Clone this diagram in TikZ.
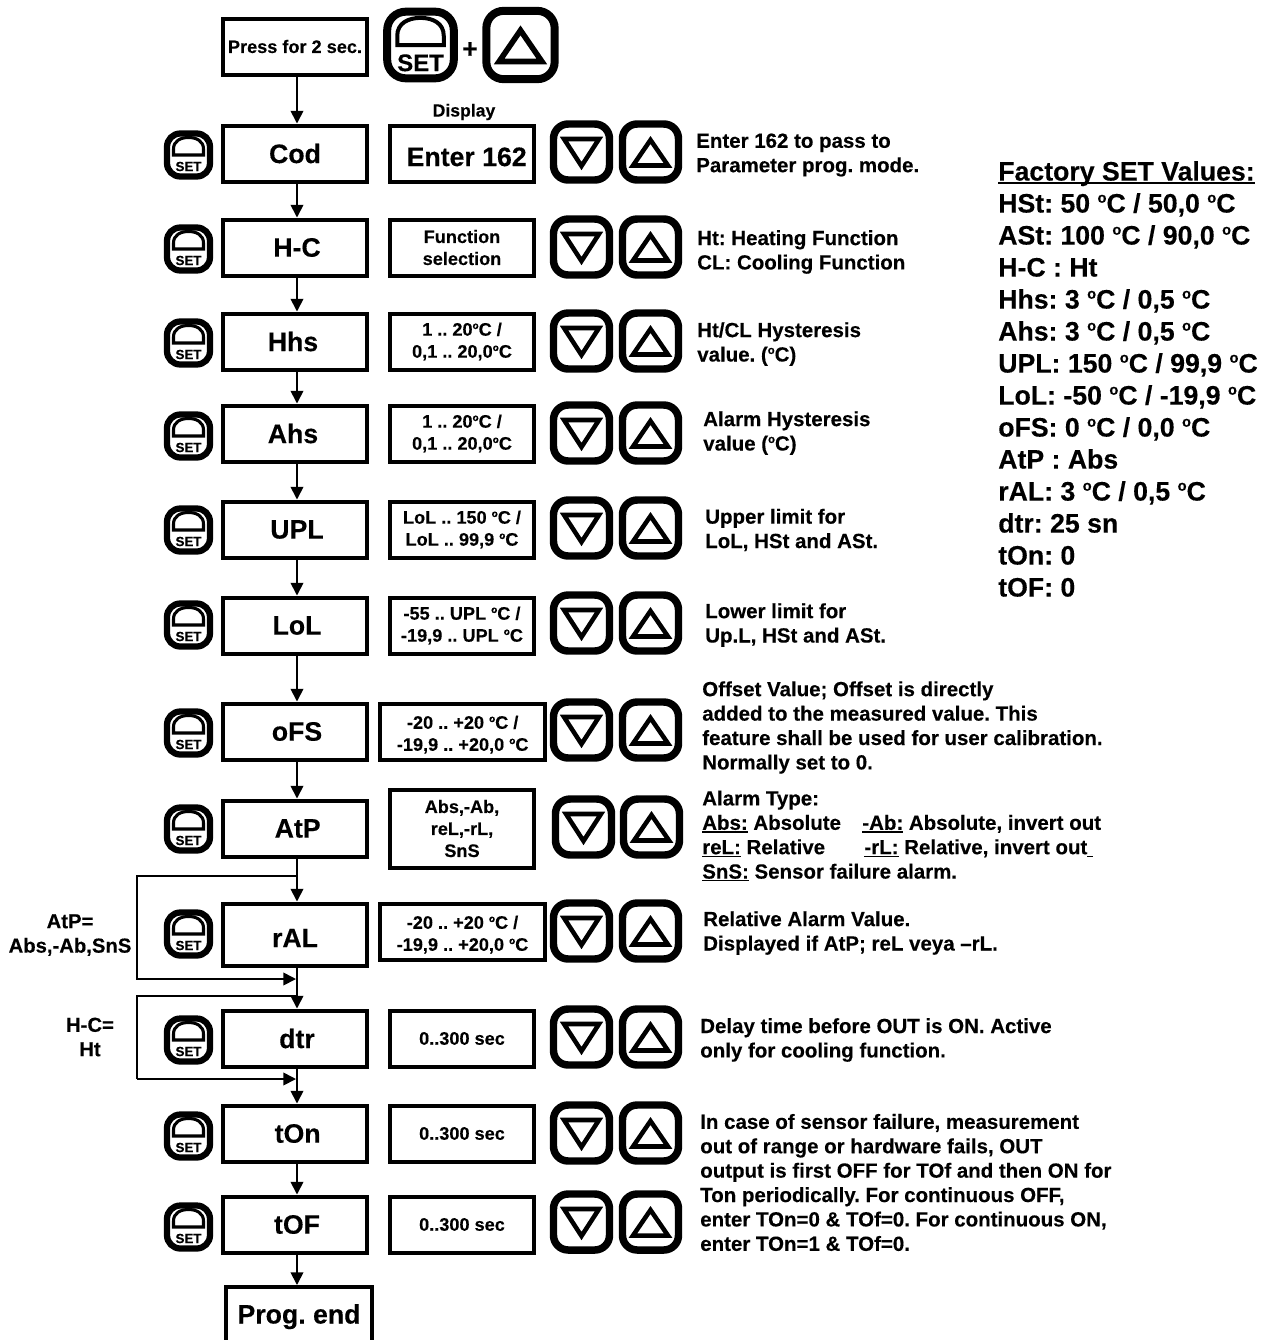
\documentclass[tikz,border=0pt]{standalone}
\usepackage{fontspec}
\setmainfont[BoldFeatures={FakeBold=0.3}]{Liberation Sans}
\usepackage{tikz}
\usetikzlibrary{positioning}
\usetikzlibrary{arrows.meta}
\frenchspacing
\newcommand{\dg}{\raisebox{.37em}{\scalebox{.55}{o}}}
\newcommand{\ulbold}[1]{\setbox0=\hbox{#1}\rlap{\rule[-0.14em]{\wd0}{0.07em}}\box0\relax}

\begin{document}
\begin{tikzpicture}[x=0.75pt,y=-0.75pt]
\tikzset{mainbox/.style={rectangle,minimum width=108pt,minimum height=42pt,line width=3pt,inner sep=0pt,draw,font=\fontsize{20}{24}\selectfont\bfseries}}
\tikzset{valbox/.style={rectangle,minimum width=108pt,minimum height=42pt,line width=3pt,inner sep=0pt,align=center,draw,font=\fontsize{13.6}{16.5}\selectfont\bfseries}}
\tikzset{widebox/.style={valbox,minimum width=124pt}}
\tikzset{note/.style={inner sep=0pt,anchor=west,align=left,font=\fontsize{15.35}{18.3}\selectfont\bfseries}}
\tikzset{sidelabel/.style={inner sep=0pt,align=center,font=\fontsize{15.2}{18.3}\selectfont\bfseries}}
\tikzset{flow/.style={line width=1.3pt,-{Triangle[length=9.5pt,width=9.5pt]}}}
\tikzset{keyround/.store in=\keyround,keyround=9pt}
\tikzset{innerwidth/.store in=\innerwidth,innerwidth=3pt}
\tikzset{setsmall/.style={line width=4.7pt,innerwidth=2.3pt,keyround=10pt}}
\tikzset{setbig/.style={scale=1.55,line width=6pt,innerwidth=3pt,keyround=14pt}}
\tikzset{smallkey/.style={line width=5.6pt,innerwidth=3.4pt,keyround=11pt}}
\tikzset{bigkey/.style={scale=1.22,line width=6pt,innerwidth=4.2pt,keyround=13pt}}
\tikzset{setkey/.pic={
  \draw[rounded corners=\keyround] (-21.5,-21.5) rectangle (21.5,21.5);
  \draw[line width=\innerwidth] (-15,0) -- (-15,-6) .. controls (-15,-14) and (-8,-17.5) .. (0,-17.5) .. controls (8,-17.5) and (15,-14) .. (15,-6) -- (15,0) -- cycle;
  \node[inner sep=0pt,transform shape,font=\fontsize{#1}{#1}\selectfont\bfseries] (-caption) at (0,11.5) {SET};
}}
\tikzset{downkey/.pic={
  \draw[rounded corners=\keyround] (-28,-28) rectangle (28,28);
  \draw[line width=\innerwidth,miter limit=10] (-17.5,-13) -- (17.5,-13) -- (0,14) -- cycle;
}}
\tikzset{upkey/.pic={
  \draw[rounded corners=\keyround] (-28,-28) rectangle (28,28);
  \draw[line width=\innerwidth,miter limit=10] (-17.5,13.5) -- (17.5,13.5) -- (0,-12) -- cycle;
}}
\useasboundingbox (0,0) rectangle (1275,1340);
\coordinate (axis) at (297,0);

% main column
\node[mainbox,font=\fontsize{13.6}{16.5}\selectfont\bfseries] (press) at (295,46.5) {Press for 2 sec.};
\node[mainbox,below=35.25pt of press] (cod) {Cod};
\node[mainbox,below=25.5pt of cod] (hc) {\hspace*{3pt}H-C};
\node[mainbox,below=25.5pt of hc] (hhs) {\hspace*{-3pt}Hhs};
\node[mainbox,below=24pt of hhs] (ahs) {\hspace*{-3pt}Ahs};
\node[mainbox,below=27pt of ahs] (upl) {\hspace*{3pt}UPL};
\node[mainbox,below=27pt of upl] (lol) {\hspace*{3pt}LoL};
\node[mainbox,below=34.5pt of lol] (ofs) {\hspace*{3pt}oFS};
\node[mainbox,below=27.75pt of ofs] (atp) {\hspace*{4pt}AtP};
\node[mainbox,minimum height=46.5pt,below=32.25pt of atp] (ral) {\rule{0pt}{19pt}rAL};
\node[mainbox,below=30.75pt of ral] (dtr) {\hspace*{3pt}dtr};
\node[mainbox,below=26.25pt of dtr] (ton) {\hspace*{4pt}tOn};
\node[mainbox,below=23.25pt of ton] (tof) {\hspace*{3pt}tOF};
\node[mainbox,minimum width=109.5pt] (progend) at (299,1315) {\rule{0pt}{17pt}Prog. end};

% value column
\node[inner sep=0pt,font=\fontsize{13.2}{16}\selectfont\bfseries] (displaytitle) at (464,112) {Display};
\node[valbox,right=14.25pt of cod,font=\fontsize{20}{24}\selectfont\bfseries] (codval) {\hspace*{7pt}\rule{0pt}{19pt}Enter 162};
\node[valbox,right=14.25pt of hc] (hcval) {Function\\selection};
\node[valbox,right=14.25pt of hhs] (hhsval) {1 .. 20\dg C /\\0,1 .. 20,0\dg C};
\node[valbox,right=14.25pt of ahs] (ahsval) {1 .. 20\dg C /\\0,1 .. 20,0\dg C};
\node[valbox,right=14.25pt of upl] (uplval) {LoL .. 150 \dg C /\\LoL .. 99,9 \dg C};
\node[valbox,right=14.25pt of lol] (lolval) {-55 .. UPL \dg C /\\-19,9 .. UPL \dg C};
\node[widebox,right=6.75pt of ofs] (ofsval) {\rule{0pt}{14.5pt}-20 .. +20 \dg C /\\-19,9 .. +20,0 \dg C};
\node[valbox,minimum height=58.5pt,right=14.25pt of atp] (atpval) {Abs,-Ab,\\reL,-rL,\\SnS};
\node[widebox] (ralval) at (462.5,931.5) {\rule{0pt}{14.5pt}-20 .. +20 \dg C /\\-19,9 .. +20,0 \dg C};
\node[valbox,right=14.25pt of dtr] (dtrval) {0..300 sec};
\node[valbox,right=14.25pt of ton] (tonval) {0..300 sec};
\node[valbox,right=14.25pt of tof] (tofval) {0..300 sec};

% keys
\pic[setbig] (startset) at (420.5,45) {setkey=11.6};
\node[inner sep=0pt,font=\fontsize{20}{24}\selectfont\bfseries] (plus) at (470,50) {+};
\pic[bigkey] (startup) at (520.5,45) {upkey};

\pic[setsmall] (codset) at (188.5,155) {setkey=10};
\pic[setsmall] (hcset) at (188.5,249) {setkey=10};
\pic[setsmall] (hhsset) at (188.5,343) {setkey=10};
\pic[setsmall] (ahsset) at (188.5,436) {setkey=10};
\pic[setsmall] (uplset) at (188.5,530) {setkey=10};
\pic[setsmall] (lolset) at (188.5,625) {setkey=10};
\pic[setsmall] (ofsset) at (188.5,733) {setkey=10};
\pic[setsmall] (atpset) at (188.5,829) {setkey=10};
\pic[setsmall] (ralset) at (188.5,934) {setkey=10};
\pic[setsmall] (dtrset) at (188.5,1040) {setkey=10};
\pic[setsmall] (tonset) at (188.5,1136) {setkey=10};
\pic[setsmall] (tofset) at (188.5,1227) {setkey=10};

\pic[smallkey] (coddown) at (581.5,152) {downkey};
\pic[smallkey] (codup) at (650.5,152) {upkey};
\pic[smallkey] (hcdown) at (581.5,247) {downkey};
\pic[smallkey] (hcup) at (650.5,247) {upkey};
\pic[smallkey] (hhsdown) at (581.5,341) {downkey};
\pic[smallkey] (hhsup) at (650.5,341) {upkey};
\pic[smallkey] (ahsdown) at (581.5,433) {downkey};
\pic[smallkey] (ahsup) at (650.5,433) {upkey};
\pic[smallkey] (upldown) at (581.5,528) {downkey};
\pic[smallkey] (uplup) at (650.5,528) {upkey};
\pic[smallkey] (loldown) at (581.5,623) {downkey};
\pic[smallkey] (lolup) at (650.5,623) {upkey};
\pic[smallkey] (ofsdown) at (581.5,730) {downkey};
\pic[smallkey] (ofsup) at (650.5,730) {upkey};
\pic[smallkey] (atpdown) at (583.5,827) {downkey};
\pic[smallkey] (atpup) at (651.5,827) {upkey};
\pic[smallkey] (raldown) at (581.5,931) {downkey};
\pic[smallkey] (ralup) at (650.5,931) {upkey};
\pic[smallkey] (dtrdown) at (581.5,1037) {downkey};
\pic[smallkey] (dtrup) at (650.5,1037) {upkey};
\pic[smallkey] (tondown) at (581.5,1133) {downkey};
\pic[smallkey] (tonup) at (650.5,1133) {upkey};
\pic[smallkey] (tofdown) at (581.5,1222) {downkey};
\pic[smallkey] (tofup) at (650.5,1222) {upkey};

% notes
\node[note] (codnote) at (696,155) {Enter 162 to pass to\\Parameter prog. mode.};
\node[note] (hcnote) at (697,252) {Ht: Heating Function\\CL: Cooling Function};
\node[note] (hhsnote) at (697,344) {Ht/CL Hysteresis\\value. (\dg C)};
\node[note] (ahsnote) at (703,433) {Alarm Hysteresis\\value (\dg C)};
\node[note] (uplnote) at (705,530) {Upper limit for\\LoL, HSt and ASt.};
\node[note] (lolnote) at (705,625) {Lower limit for\\Up.L, HSt and ASt.};
\node[note] (ofsnote) at (702,727.5) {Offset Value; Offset is directly\\added to the measured value. This\\feature shall be used for user calibration.\\Normally set to 0.};
\node[note] (atpnote) at (702,836) {Alarm Type:\\\ulbold{Abs:} Absolute\hspace{16pt}\ulbold{-Ab:} Absolute, invert out\\\ulbold{reL:} Relative\hspace{29.5pt}\ulbold{-rL:} Relative, invert out\ulbold{\ }\\\ulbold{SnS:} Sensor failure alarm.};
\node[note] (ralnote) at (703,933) {Relative Alarm Value.\\Displayed if AtP; reL veya –rL.};
\node[note] (dtrnote) at (700,1040) {Delay time before OUT is ON. Active\\only for cooling function.};
\node[note] (tonnote) at (700,1182.5) {In case of sensor failure, measurement\\out of range or hardware fails, OUT\\output is first OFF for TOf and then ON for\\Ton periodically. For continuous OFF,\\enter TOn=0 \& TOf=0. For continuous ON,\\enter TOn=1 \& TOf=0.};

% factory values
\node[note,font=\fontsize{20}{24}\selectfont\bfseries] (factory) at (998,379) {\ulbold{Factory SET Values:}\\HSt: 50 \dg C / 50,0 \dg C\\ASt: 100 \dg C / 90,0 \dg C\\H-C : Ht\\Hhs: 3 \dg C / 0,5 \dg C\\Ahs: 3 \dg C / 0,5 \dg C\\UPL: 150 \dg C / 99,9 \dg C\\LoL: -50 \dg C / -19,9 \dg C\\oFS: 0 \dg C / 0,0 \dg C\\AtP : Abs\\rAL: 3 \dg C / 0,5 \dg C\\dtr: 25 sn\\tOn: 0\\tOF: 0};

% side conditions
\node[sidelabel] (atpcond) at (70,935) {AtP=\\Abs,-Ab,SnS};
\node[sidelabel] (hccond) at (90,1037) {H-C=\\Ht};

% connectors
\draw[flow] (press.south -| axis) -- (cod.north -| axis);
\draw[flow] (cod.south -| axis) -- (hc.north -| axis);
\draw[flow] (hc.south -| axis) -- (hhs.north -| axis);
\draw[flow] (hhs.south -| axis) -- (ahs.north -| axis);
\draw[flow] (ahs.south -| axis) -- (upl.north -| axis);
\draw[flow] (upl.south -| axis) -- (lol.north -| axis);
\draw[flow] (lol.south -| axis) -- (ofs.north -| axis);
\draw[flow] (ofs.south -| axis) -- (atp.north -| axis);
\draw[flow] (atp.south -| axis) -- (ral.north -| axis);
\draw[flow] (ral.south -| axis) -- (dtr.north -| axis);
\draw[flow] (dtr.south -| axis) -- (ton.north -| axis);
\draw[flow] (ton.south -| axis) -- (tof.north -| axis);
\draw[flow] (tof.south -| axis) -- (progend.north -| axis);

% bypass lines
\coordinate (ralsplit) at (297,876);
\coordinate (ralleft) at (137,876);
\coordinate (ralleftend) at (137,979);
\coordinate (ralmerge) at (296,979);
\coordinate (dtrsplit) at (297,996);
\coordinate (dtrleft) at (137,996);
\coordinate (dtrleftend) at (137,1079);
\coordinate (dtrmerge) at (296,1079);
\draw[flow] (ralsplit) -- (ralleft) -- (ralleftend) -- (ralmerge);
\draw[line width=1.3pt] (dtrsplit) -- (dtrleft) -- (dtrleftend);
\draw[flow] (dtrleftend) -- (dtrmerge);
\end{tikzpicture}
\end{document}
